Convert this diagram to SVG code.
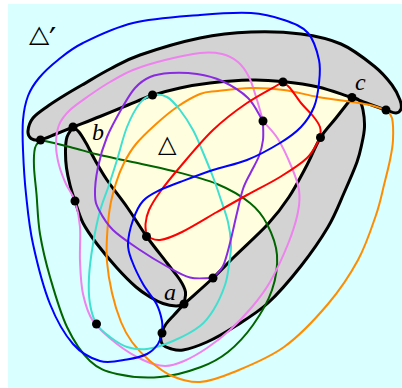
<svg xmlns="http://www.w3.org/2000/svg" width="402" height="388" viewBox="0 0 402 388">
<style>
.blk{stroke:#000;stroke-width:3;stroke-linejoin:round;fill:none}
.c{fill:none;stroke-width:2;stroke-linejoin:round}
.dot{fill:#000}
.lbl{font-family:"Liberation Serif",serif;font-style:italic;font-size:24px;fill:#000}
.tri{font-family:"DejaVu Sans",sans-serif;font-size:24px;fill:#000}
.prm{font-family:"DejaVu Sans",sans-serif;font-size:32px;fill:#000}
</style>
<rect x="0" y="0" width="402" height="388" fill="#fff"/>
<rect x="8" y="4" width="394" height="384" fill="#d9ffff"/>
<g id="delta-prime">
<path class="blk" style="fill:#d3d3d3" d="M73,127 C67.3,129.3 61.5,131.8 56,134 S44.2,139.3 40,140 S33,140 31,138.5 S27.7,134.4 28,131 S29.7,122.2 33,118 S42.7,109.8 48,106 S59.3,98.5 65,95 S74.5,89.3 82,85 S100.3,74 110,69 S125,60.2 140,55 S181.5,41.8 200,38 S234.2,32.7 251,32 S286,32 301,34 S328.8,38.7 341,44 S365.5,59.2 374,66 S387.7,79.3 392,85 S398.5,96 400,100 S401.7,106.8 401,109 S398.5,112.8 396,113 S390.5,111.5 386,110 S374.7,106.1 369,104 S357.7,99.7 352,97.5 C354.3,98.3 357.2,97.9 359,100 S362.1,105.5 363,110 S364.7,121.5 364.5,127 S363.3,137.2 362,143 S360,153.7 357,162 S348.8,182.2 344,193 S335.2,214.8 328,227 S311,253.3 301,266 S279.2,292.8 268,303 S244.2,320.5 234,327 S215.5,338.2 207,342 S189.2,348.9 183,350 S173.3,349.3 170,348.5 S164.6,346.6 163,345 S160.9,341.2 160.7,339 S161.1,334.5 162,332 S164,326.8 166,324 S171,318.3 174,315 S180.7,307.7 184,304 C181.3,304.7 179.5,306.1 176,306 S167.3,305 163,303.5 S154.5,299.8 150,297 S141.5,291.8 136,287 S123.5,275.2 117,268 S102.7,251.5 97,244 S86.7,230.2 83,223 S77.2,207.3 75,201 S71.4,190.5 70,185 S67.3,173.8 66.5,168 S65.4,155.2 65.5,150 S65.8,140.8 67,137 S71,130.3 73,127 Z"/>
</g>
<g id="delta">
<path class="blk" style="fill:#ffffe0" d="M73,127 C82,123.5 90.8,120.2 100,116.5 S119.3,108.5 128,105 S143.3,98.3 152,95.5 S170.3,90.1 180,88 S198.2,84.3 210,83 S239,80.3 251,80 S270.8,80.3 282,81.5 S306.3,84.3 318,87 S340.7,94 352,97.5 C346.7,104.3 341.3,111.3 336,118 S325.3,129.7 320.5,137.5 S312.3,155.1 307,165 S295.5,187.2 289,197 S277.2,214 268,224 S243.2,248 234,257 S221.3,270.2 213,278 S193.7,295.3 184,304 C184.5,300 186.2,296 185.5,292 S183.1,284.8 180,280 S172.5,270.2 167,263 S153.7,246.3 147,237 S133.7,216.5 127,207 S112.3,187.8 107,180 S98.5,166.2 95,160 S88.7,147.7 86,143 S81.2,134.7 79,132 S75,128.7 73,127 Z"/>
</g>
<g id="connectors">
<path id="green" class="c" stroke="#006400" d="M40.5,140 C50.3,142.3 60.1,144.5 70,147 S90,152.6 100,155 S117.8,158.8 130,161.5 S158.5,167.3 173,171 S204.2,178.7 217,184 S241.7,196.3 250,203 S262.5,215.3 267,224 S276.2,244 277,255 S276,278.3 272,290 S260.3,314.7 253,325 S236.7,345 228,352 S212.3,362.8 201,367 S174,375.8 160,377 S128.7,376.7 117,374 S98.3,368.8 90,361 S73.7,341 67,327 S54.5,292.5 50,277 S42.3,247.8 40,234 S37.5,205.2 36.5,194 S34.3,174.7 34,167 S33.9,152.5 35,148 S38.7,142.7 40.5,140 Z"/>
<path id="violet" class="c" stroke="#ee82ee" d="M263,121 C261,114 259.3,107.3 257,100 S252.2,83.3 249,77 S242.5,65.8 238,62 S228.3,55.5 222,54 S209.5,52 200,53 S176.2,57.2 165,60 S142.2,66.3 133,70 S117.2,77.8 110,82 S96.7,90.3 90,95 S75.2,105 70,110 S61.3,119.2 59,125 S56,138.3 56,145 S57.3,158.5 59,165 S63.3,178 66,184 S72.7,193.8 75,201 S79.2,217 80,227 S79.5,249.8 80,261 S80.8,284 83,294 S87.3,312.7 93,321 S108.7,337.5 117,344 S135,356.3 143,360 S158.2,365.8 165,366 S177,364 184,361 S199.3,353.2 207,348 S222.5,336.8 230,330 S245.3,315 252,307 S264,292.5 270,282 S283.3,255.7 288,244 S296.2,221 298,212 S300,197.3 299,190 S295.5,176.5 292,168 S282.8,146.8 278,139 S268,127 263,121 Z"/>
<path id="orange" class="c" stroke="#ff8c00" d="M386,110 C388,112.7 390.8,113 392,118 S393.3,133 393,140 S391.5,152.5 390,160 S386.3,175.8 384,185 S380.3,202.5 376,215 S366,245.2 358,260 S340.3,289.5 328,304 S299.7,335.7 284,347 S248,366.2 234,372 S210.3,381.3 200,382 S180.3,379.5 172,376 S156.7,366.7 150,361 S136.8,348.5 132,342 S124.3,330.2 121,322 S114.3,303 112,293 S107.8,271.3 107,262 S106.5,246.2 107,237 S108.5,216 110,207 S113.7,190.3 116,183 S120.7,169.5 124,163 S130.8,150.3 136,144 S148.2,131.2 155,125 S169.5,112.2 177,107 S193.2,96.7 200,94 S209.5,92 218,91 S240,88.2 251,88 S272.8,88.5 284,90 S306.7,95 318,97 S343.3,100.7 352,102 S364.3,103.7 370,105 S380.7,108.3 386,110 Z"/>
<path id="turquoise" class="c" stroke="#40e0d0" d="M152.5,95 C157,94 162.4,94.5 167,97 S175.7,104.5 180,110 S189.3,123.3 193,130 S198.7,142.2 202,150 S209.8,168.7 213,177 S218.5,192.5 221,200 S226.3,214.7 228,222 S230.8,236.8 231,244 S230,258.2 229,265 S227.5,277.7 225,285 S218.2,302.2 214,309 S206.8,320.7 200,326 S181.8,337.2 173,341 S154.7,348 147,349 S133.2,349 127,347 S115.1,340.8 110,337 S99.8,329.5 96.5,324 S91.3,311.8 90,304 S88.5,287 89,277 S91.2,255 93,244 S97.3,220.8 100,211 S106.2,193.5 109,185 S114,169.7 117,160 S123.2,136.5 127,127 S135.8,108.3 140,103 S148,96 152.5,95 Z"/>
<path id="purple" class="c" stroke="#8a2be2" d="M263,121 C258,113.3 254.8,104.7 248,98 S230.5,85 222,81 S205.7,75.3 197,74 S177.8,72.5 170,73 S155.8,74.5 150,77 S139.7,82.8 135,88 S126.7,99.8 122,108 S111,127.2 107,137 S100,157.3 98,167 S94.8,187.8 95,195 S96,204.2 99,210 S106.2,223.3 113,230 S131,243.9 140,250 S158.7,261.9 167,266.5 S182.3,275.6 190,277.5 S205.3,277.8 213,278 C216.3,274 220.2,271.8 223,266 S227.7,251.8 230,243 S234.8,222 237,213 S240.7,195.8 243,189 S248.3,177.5 251,172 S257,161.3 259,156 S262.3,145.8 263,140 S263,127.3 263,121 Z"/>
<path id="red" class="c" stroke="#ff0000" d="M283,82 C271,89 258.7,95 247,103 S224.2,119.3 213,130 S188.8,156.7 180,167 S165.2,184.8 160,192 S151.4,204.7 149,210 S145.9,219.6 145.5,224 S146.2,232.3 146.5,236.5 C151,237.7 154.1,240.8 160,240 S172.5,236.7 182,232 S206.2,218.2 217,212 S236.5,200.8 247,195 S270,183.2 280,177 S300.3,164.6 307,158 S316,144.3 320.5,137.5 C320.3,134 321.3,130.6 320,127 S316.2,120 313,116 S304.8,107.7 301,103 S293,91.5 290,88 S285.3,84 283,82 Z"/>
<path id="blue" class="c" stroke="#0000ff" d="M162,333 C160.7,336.7 160.5,340.5 158,344 S152.2,351.4 147,354 S134.8,358.3 127,359.5 S109,363.6 100,361 S81.3,353.5 73,344 S56.7,320.7 50,304 S37,262.3 33,244 S27.7,209.7 26,194 S23.5,162.3 23,150 S22.2,129 23,120 S25.3,103 28,96 S34,84 39,78 S50.7,65.8 58,60 S70.5,49.2 83,43 S113.5,27.7 133,23 S180.3,16.7 200,15 S237,12.2 251,13 S274.5,16.7 284,20 S302.2,26.3 308,33 S317.2,51.7 319,60 S319.8,75.2 319,83 S317,99.7 314,107 S306.7,121 301,127 S289,137.5 280,143 S258.2,155.5 247,160 S224.2,166.3 213,170 S188.8,178.7 180,182 S166.2,186.8 160,190 S147.5,196 143,201 S135.5,212.8 133,220 S128.2,237.2 128,244 S129.5,254.3 132,261 S138.9,276.8 143,284 S153.3,297.8 156.5,304 S161.1,316.2 162,321 S162,329 162,333 Z"/>
</g>
<g id="points">
<circle class="dot" cx="40.5" cy="140" r="4.5"/>
<circle class="dot" cx="73" cy="127" r="4.5"/>
<circle class="dot" cx="152.5" cy="95" r="4.5"/>
<circle class="dot" cx="283" cy="82" r="4.5"/>
<circle class="dot" cx="352" cy="97.5" r="4.5"/>
<circle class="dot" cx="386" cy="110" r="4.5"/>
<circle class="dot" cx="263" cy="121" r="4.5"/>
<circle class="dot" cx="320.5" cy="137.5" r="4.5"/>
<circle class="dot" cx="75" cy="201" r="4.5"/>
<circle class="dot" cx="146.5" cy="236.5" r="4.5"/>
<circle class="dot" cx="213" cy="278" r="4.5"/>
<circle class="dot" cx="184" cy="304" r="4.5"/>
<circle class="dot" cx="96.5" cy="324" r="4.5"/>
<circle class="dot" cx="162" cy="333" r="4.5"/>
</g>
<g id="labels">
<text class="tri" x="29" y="42" transform="translate(29,42) scale(1.1,1) translate(-29,-42)">△</text>
<text class="prm" x="49" y="50">′</text>
<text class="tri" x="158" y="152">△</text>
<text class="lbl" x="92" y="140">b</text>
<text class="lbl" x="355" y="90">c</text>
<text class="lbl" x="164" y="300">a</text>
</g>
</svg>
